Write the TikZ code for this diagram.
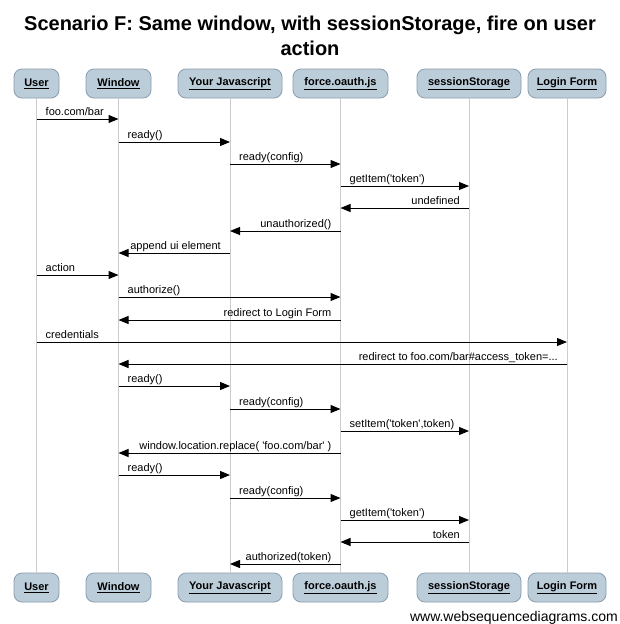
\documentclass[tikz,border=0pt]{standalone}
\usepackage{fontspec}
\setmainfont{Liberation Sans}
\usetikzlibrary{arrows.meta,calc}
\definecolor{boxfill}{RGB}{188,205,218}
\definecolor{boxborder}{RGB}{138,156,173}
\definecolor{lifegray}{RGB}{204,204,204}
\newcommand\sq{\textquotesingle}
\newcounter{mc}
\newcommand\sendR[4]{\stepcounter{mc}%
  \coordinate (s\themc) at (#1.south |- 0,#3);
  \coordinate (e\themc) at (#2.south |- 0,#3);
  \draw[msg] (s\themc) -- (e\themc);
  \node[lbl, anchor=base west] (l\themc) at ([xshift=9pt,yshift=4pt]s\themc) {#4};}
\newcommand\sendL[4]{\stepcounter{mc}%
  \coordinate (s\themc) at (#1.south |- 0,#3);
  \coordinate (e\themc) at (#2.south |- 0,#3);
  \draw[msg] (s\themc) -- (e\themc);
  \node[lbl, anchor=base east] (l\themc) at ([xshift=-9pt,yshift=4pt]s\themc) {#4};}
\tikzset{
  actor/.style={draw=boxborder, fill=boxfill, rounded corners=8pt, line width=0.8pt,
    minimum height=29pt, inner sep=0pt, font=\fontsize{11}{13}\selectfont\bfseries},
  life/.style={draw=lifegray, line width=1pt},
  msg/.style={draw=black, line width=1pt, -{Triangle[length=10pt,width=8pt]}},
  lbl/.style={font=\fontsize{11}{13}\selectfont, inner sep=0pt},
  ttl/.style={font=\fontsize{20}{25}\selectfont\bfseries, anchor=base, inner sep=0pt},
}
\begin{document}
\begin{tikzpicture}[x=1pt,y=-1pt]
\useasboundingbox[fill=white] (0,0) rectangle (620,624);
\node[ttl] (title1) at (310,30) {Scenario F: Same window, with sessionStorage, fire on user};
\node[ttl] (title2) at (310,55) {action};
% top boxes
\foreach \n/\x/\w/\t in {u/36.5/45/User, w/118.5/65/Window, j/230/104/Your Javascript,
   f/340.5/95/force.oauth.js, s/469/104/sessionStorage, l/567/78/Login Form}{
  \node[actor, minimum width=\w pt] (t\n) at (\x,83.5) {\underline{\t}};
  \node[actor, minimum width=\w pt] (b\n) at (\x,587.5) {\underline{\t}};
  \draw[life] (t\n.south) -- (b\n.north);
}
\sendR{tu}{tw}{119}{foo.com/bar}
\sendR{tw}{tj}{142}{ready()}
\sendR{tj}{tf}{164}{ready(config)}
\sendR{tf}{ts}{186}{getItem(\sq token\sq)}
\sendL{ts}{tf}{208}{undefined}
\sendL{tf}{tj}{231}{unauthorized()}
\sendL{tj}{tw}{253}{append ui element}
\sendR{tu}{tw}{275}{action}
\sendR{tw}{tf}{297}{authorize()}
\sendL{tf}{tw}{320}{redirect to Login Form}
\sendR{tu}{tl}{342}{credentials}
\sendL{tl}{tw}{364}{redirect to foo.com/bar\#access\_token=...}
\sendR{tw}{tj}{386}{ready()}
\sendR{tj}{tf}{409}{ready(config)}
\sendR{tf}{ts}{431}{setItem(\sq token\sq,token)}
\sendL{tf}{tw}{453}{window.location.replace( \sq foo.com/bar\sq\ )}
\sendR{tw}{tj}{475}{ready()}
\sendR{tj}{tf}{498}{ready(config)}
\sendR{tf}{ts}{520}{getItem(\sq token\sq)}
\sendL{ts}{tf}{542}{token}
\sendL{tf}{tj}{564}{authorized(token)}
\node[font=\fontsize{14}{16}\selectfont, anchor=base east, inner sep=0pt] (footer) at (618,621) {www.websequencediagrams.com};
\end{tikzpicture}
\end{document}
